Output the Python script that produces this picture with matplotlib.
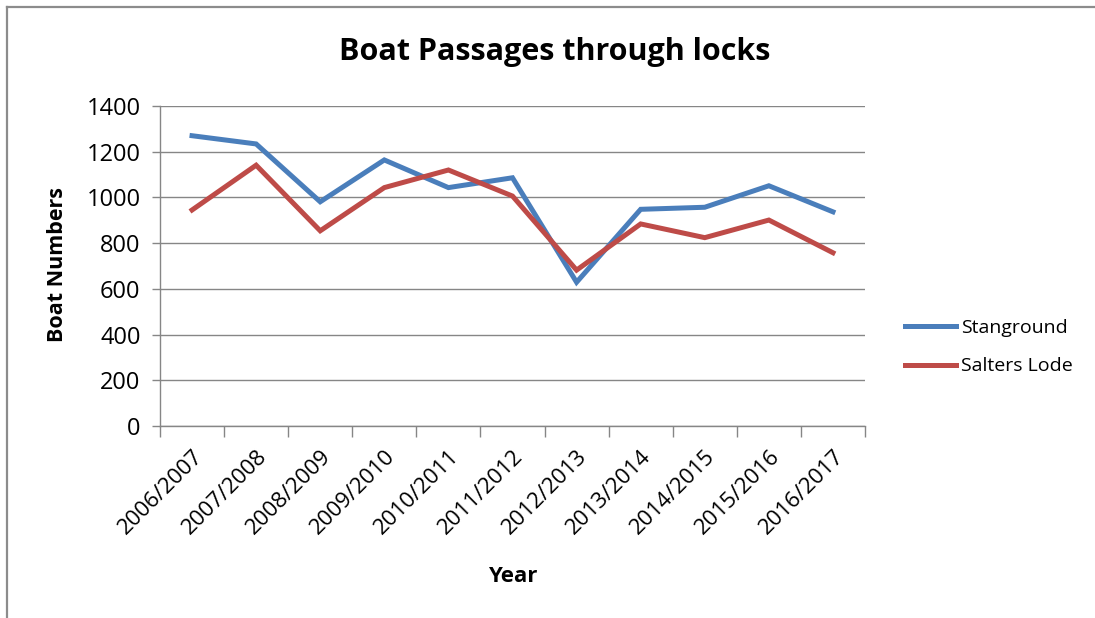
import numpy as np
import matplotlib.pyplot as plt
from matplotlib.lines import Line2D

years = ['2006/2007', '2007/2008', '2008/2009', '2009/2010', '2010/2011',
         '2011/2012', '2012/2013', '2013/2014', '2014/2015', '2015/2016',
         '2016/2017']
stanground = [1270, 1234, 981, 1164, 1043, 1086, 629, 948, 957, 1051, 937]
salters_lode = [945, 1141, 854, 1043, 1120, 1006, 682, 884, 824, 901, 758]

plt.rcParams['font.family'] = ['Open Sans', 'DejaVu Sans']
grey = '#868686'

fig = plt.figure(figsize=(10.95, 6.18), dpi=100)
ax = fig.add_axes([160 / 1095, 1 - 426 / 618, 705 / 1095, 320 / 618])

x = np.arange(len(years))
ax.plot(x, stanground, color='#4a7ebb', lw=3.6, label='Stanground',
        solid_joinstyle='miter')
ax.plot(x, salters_lode, color='#be4b48', lw=3.6, label='Salters Lode',
        solid_joinstyle='miter')

ax.set_xlim(-0.5, len(years) - 0.5)
ax.set_ylim(0, 1400)
ax.set_yticks(range(0, 1401, 200))
ax.yaxis.grid(True, color=grey, lw=1)
ax.set_axisbelow(True)

# category labels centred, tick marks on the boundaries
ax.set_xticks(x)
ax.set_xticklabels(years, rotation=45, ha='right', rotation_mode='anchor',
                   fontsize=16)
ax.set_xticks(np.arange(-0.5, len(years)), minor=True)
ax.tick_params(axis='x', which='major', length=0, pad=14)
ax.tick_params(axis='x', which='minor', length=8, color=grey, width=1)
ax.tick_params(axis='y', length=6, color=grey, width=1, labelsize=17, pad=8)

for side in ['top', 'right']:
    ax.spines[side].set_visible(False)
for side in ['left', 'bottom']:
    ax.spines[side].set_color(grey)
    ax.spines[side].set_linewidth(1)

fig.text(555 / 1095, 1 - 52 / 618, 'Boat Passages through locks',
         fontsize=22, fontweight='bold', ha='center', va='center')
fig.text(58 / 1095, 1 - 265 / 618, 'Boat Numbers', fontsize=15.5,
         fontweight='bold', rotation=90, ha='center', va='center')
fig.text(513 / 1095, 1 - 577 / 618, 'Year', fontsize=16, fontweight='bold',
         ha='center', va='center')

ax.legend(loc='center left', bbox_to_anchor=(1.032, 0.246), frameon=False,
          fontsize=14, handlelength=2.6, handletextpad=0.3, labelspacing=1.05)

# outer chart border (top and left edges)
fig.add_artist(Line2D([7 / 1095, 7 / 1095], [0, 1 - 7 / 618],
                      transform=fig.transFigure, color='#8c8c8c', lw=1.6))
fig.add_artist(Line2D([7 / 1095, 1], [1 - 7 / 618, 1 - 7 / 618],
                      transform=fig.transFigure, color='#8c8c8c', lw=1.6))

fig.savefig('out.png', dpi=100)
